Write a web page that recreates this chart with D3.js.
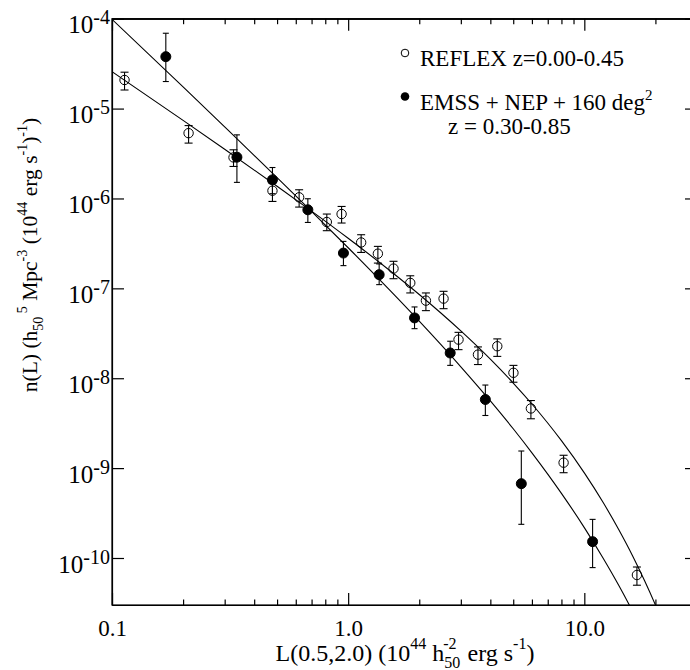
<!DOCTYPE html>
<html>
<head>
<meta charset="utf-8">
<script src="https://cdn.jsdelivr.net/npm/d3@7"></script>
<style>
  body { margin: 0; background: #fff; }
  svg text, svg tspan { font-family: "Liberation Serif", "Times New Roman", "DejaVu Serif", serif !important; fill: #000; }
</style>
</head>
<body>
<svg id="chart"></svg>
<script>
// REFLEX points (open circles): luminosity, density, error bar low/high
const reflexL  = [0.113, 0.211, 0.327, 0.478, 0.620, 0.812, 0.938, 1.135, 1.336, 1.556, 1.832, 2.134, 2.535, 2.933, 3.545, 4.28, 5.01, 5.94, 8.17, 16.7];
const reflexN  = [2.08e-5, 5.33e-6, 2.86e-6, 1.22e-6, 1.03e-6, 5.47e-7, 6.71e-7, 3.24e-7, 2.43e-7, 1.66e-7, 1.15e-7, 7.3e-8, 7.69e-8, 2.69e-8, 1.83e-8, 2.27e-8, 1.15e-8, 4.61e-9, 1.15e-9, 6.47e-11];
const reflexLo = [1.61e-5, 4.13e-6, 2.27e-6, 9.27e-7, 8.02e-7, 4.38e-7, 5.33e-7, 2.51e-7, 1.91e-7, 1.28e-7, 8.89e-8, 5.65e-8, 5.94e-8, 2.08e-8, 1.42e-8, 1.75e-8, 9.03e-9, 3.54e-9, 8.89e-10, 4.98e-11];
const reflexHi = [2.54e-5, 6.47e-6, 3.48e-6, 1.48e-6, 1.25e-6, 6.71e-7, 8.15e-7, 3.95e-7, 2.93e-7, 2.0e-7, 1.38e-7, 8.89e-8, 9.27e-8, 3.24e-8, 2.23e-8, 2.74e-8, 1.39e-8, 5.65e-9, 1.39e-9, 7.94e-11];

// EMSS + NEP + 160 deg^2 points (filled circles)
const emssL  = [0.169, 0.338, 0.478, 0.675, 0.955, 1.353, 1.910, 2.704, 3.81, 5.41, 10.84];
const emssN  = [3.78e-5, 2.88e-6, 1.61e-6, 7.48e-7, 2.47e-7, 1.42e-7, 4.69e-8, 1.91e-8, 5.80e-9, 6.71e-10, 1.52e-10];
const emssLo = [2.0e-5, 1.51e-6, 1.13e-6, 5.41e-7, 1.79e-7, 1.10e-7, 3.56e-8, 1.39e-8, 3.85e-9, 2.37e-10, 7.82e-11];
const emssHi = [6.89e-5, 5.10e-6, 2.21e-6, 9.93e-7, 3.33e-7, 1.87e-7, 6.21e-8, 2.58e-8, 8.40e-9, 1.55e-9, 2.69e-10];

// model curves
const modelL      = [0.1, 0.2, 0.3, 0.5, 0.7, 1, 1.5, 2, 3, 4, 5, 6, 8, 10, 12, 14, 16, 18, 20, 22];
const reflexModel = [2.58e-5, 7.39e-6, 3.53e-6, 1.37e-6, 7.24e-7, 3.61e-7, 1.58e-7, 8.54e-8, 3.36e-8, 1.63e-8, 8.85e-9, 5.17e-9, 2.02e-9, 8.85e-10, 4.17e-10, 2.06e-10, 1.06e-10, 5.58e-11, 3.01e-11, 1.66e-11];
const emssModel   = [9.84e-5, 1.74e-5, 6.26e-6, 1.71e-6, 7.18e-7, 2.83e-7, 9.54e-8, 4.31e-8, 1.34e-8, 5.59e-9, 2.74e-9, 1.48e-9, 5.24e-10, 2.18e-10, 1.00e-10, 4.94e-11, 2.56e-11, 1.38e-11, 7.7e-12, 4.4e-12];

// ticks
const xMajor = [0.1, 1, 10];
const xMajorLabels = ["0.1", "1.0", "10.0"];
const xMinor = [0.2, 0.3, 0.4, 0.5, 0.6, 0.7, 0.8, 0.9, 2, 3, 4, 5, 6, 7, 8, 9, 20];
const yTicks = [1e-4, 1e-5, 1e-6, 1e-7, 1e-8, 1e-9, 1e-10];
const yExps = ["-4", "-5", "-6", "-7", "-8", "-9", "-10"];

const W = 690, H = 670;
const pLeft = 112, pRight = 697, pTop = 18.7, pBottom = 605;
const FONT = "Liberation Serif, Times New Roman, DejaVu Serif, serif";

const svg = d3.select("#chart").attr("width", W).attr("height", H)
  .attr("font-family", FONT);

const x = d3.scaleLog().domain([0.1, 30]).range([pLeft, pRight]);
const y = d3.scaleLog().domain([3e-11, 1e-4]).range([pBottom, pTop]);

svg.append("clipPath").attr("id", "plotclip")
  .append("rect").attr("x", pLeft).attr("y", pTop)
  .attr("width", pRight - pLeft).attr("height", pBottom - pTop);

// helper for text with super/subscripts
function rich(sel, parts, size, supUp = 0.45, subDown = 0.3) {
  let cur = 0;
  parts.forEach(p => {
    const [t, k, dx] = p;
    const target = k === "sup" ? -supUp * size : k === "sub" ? subDown * size : 0;
    const ts = sel.append("tspan")
      .attr("dy", target - cur)
      .attr("font-size", k === "n" ? size : Math.round(size * 0.66))
      .text(t);
    if (dx) ts.attr("dx", dx);
    cur = target;
  });
}

// axes
const xAxisB = d3.axisBottom(x).tickValues(xMajor).tickSize(-12).tickSizeOuter(0).tickPadding(15)
  .tickFormat((d, i) => xMajorLabels[i]);
const gxb = svg.append("g").attr("transform", `translate(0,${pBottom})`).call(xAxisB);
gxb.attr("font-family", FONT).selectAll("text").attr("font-size", 23);
svg.append("g").attr("transform", `translate(0,${pBottom})`)
  .call(d3.axisBottom(x).tickValues(xMinor).tickSize(-5.5).tickSizeOuter(0).tickFormat(""));

svg.append("g").attr("transform", `translate(0,${pTop})`)
  .call(d3.axisTop(x).tickValues(xMajor).tickSize(-12).tickSizeOuter(0).tickFormat(""));
svg.append("g").attr("transform", `translate(0,${pTop})`)
  .call(d3.axisTop(x).tickValues(xMinor).tickSize(-5.5).tickSizeOuter(0).tickFormat(""));

svg.append("g").attr("transform", `translate(${pLeft},0)`)
  .call(d3.axisLeft(y).tickValues(yTicks).tickSize(-12).tickSizeOuter(0).tickFormat(""));
svg.append("g").attr("transform", `translate(${pRight},0)`)
  .call(d3.axisRight(y).tickValues(yTicks).tickSize(-12).tickSizeOuter(0).tickFormat(""));

svg.selectAll(".domain, .tick line").attr("stroke", "#000").attr("stroke-width", 1.2);

// y tick labels with exponents
yTicks.forEach((v, i) => {
  const t = svg.append("text")
    .attr("x", 110).attr("y", y(v) + 14.5)
    .attr("text-anchor", "end");
  t.append("tspan").attr("font-size", 25).text("10");
  t.append("tspan").attr("font-size", 20).attr("dy", -9).text(yExps[i]);
});

// model curves
const line = d3.line().x(d => x(d[0])).y(d => y(d[1])).curve(d3.curveMonotoneX);
const curves = svg.append("g").attr("clip-path", "url(#plotclip)");
[reflexModel, emssModel].forEach(m => {
  curves.append("path")
    .datum(modelL.map((l, i) => [l, m[i]]))
    .attr("d", line)
    .attr("fill", "none").attr("stroke", "#000").attr("stroke-width", 1.1);
});

// error bars + markers
function drawSeries(L, N, Lo, Hi, filled, cap) {
  const g = svg.append("g");
  const pts = L.map((l, i) => ({ l, n: N[i], lo: Lo[i], hi: Hi[i] }));
  g.selectAll(".eb").data(pts).enter().append("line")
    .attr("x1", d => x(d.l)).attr("x2", d => x(d.l))
    .attr("y1", d => y(d.lo)).attr("y2", d => y(d.hi))
    .attr("stroke", "#000").attr("stroke-width", 1.1);
  ["lo", "hi"].forEach(k => {
    g.selectAll(".cap" + k).data(pts).enter().append("line")
      .attr("x1", d => x(d.l) - cap).attr("x2", d => x(d.l) + cap)
      .attr("y1", d => y(d[k])).attr("y2", d => y(d[k]))
      .attr("stroke", "#000").attr("stroke-width", 1.1);
  });
  g.selectAll("circle").data(pts).enter().append("circle")
    .attr("cx", d => x(d.l)).attr("cy", d => y(d.n))
    .attr("r", filled ? 5 : 4.7)
    .attr("fill", filled ? "#000" : "none")
    .attr("stroke", "#000").attr("stroke-width", 1);
}
drawSeries(reflexL, reflexN, reflexLo, reflexHi, false, 4);
drawSeries(emssL, emssN, emssLo, emssHi, true, 3);

// frame
svg.append("rect").attr("x", pLeft).attr("y", pTop)
  .attr("width", pRight - pLeft).attr("height", pBottom - pTop)
  .attr("fill", "none").attr("stroke", "#000").attr("stroke-width", 1.2);

// legend
svg.append("circle").attr("cx", 405).attr("cy", 53).attr("r", 3.8)
  .attr("fill", "none").attr("stroke", "#000").attr("stroke-width", 1);
svg.append("text").attr("x", 420).attr("y", 65.5).attr("font-size", 23).text("REFLEX z=0.00-0.45");
svg.append("circle").attr("cx", 405).attr("cy", 96.5).attr("r", 4.3).attr("fill", "#000");
const l2 = svg.append("text").attr("x", 420).attr("y", 110).attr("font-size", 23);
rich(l2, [["EMSS + NEP + 160 deg", "n"], ["2", "sup"]], 23);
svg.append("text").attr("x", 448).attr("y", 134).attr("font-size", 23).text("z = 0.30-0.85");

// axis titles
const xt = svg.append("text").attr("x", 405).attr("y", 661).attr("text-anchor", "middle").attr("font-size", 24);
rich(xt, [["L(0.5,2.0) (10", "n"], ["44", "sup"], [" h", "n"], ["50", "sub"], ["-2", "sup", -17],
  [" erg s", "n", 5], ["-1", "sup"], [")", "n"]], 24, 0.52, 0.28);

const yt = svg.append("text").attr("transform", "translate(37,255) rotate(-90)")
  .attr("text-anchor", "middle").attr("font-size", 21.5);
rich(yt, [["n(L) (h", "n"], ["50", "sub"], [" 5", "sup"], [" Mpc", "n"], ["-3", "sup"], [" (10", "n"], ["44", "sup"], [" erg s", "n"], ["-1", "sup"], [")", "n"], ["-1", "sup"], [")", "n"]], 21.5);
</script>
</body>
</html>
